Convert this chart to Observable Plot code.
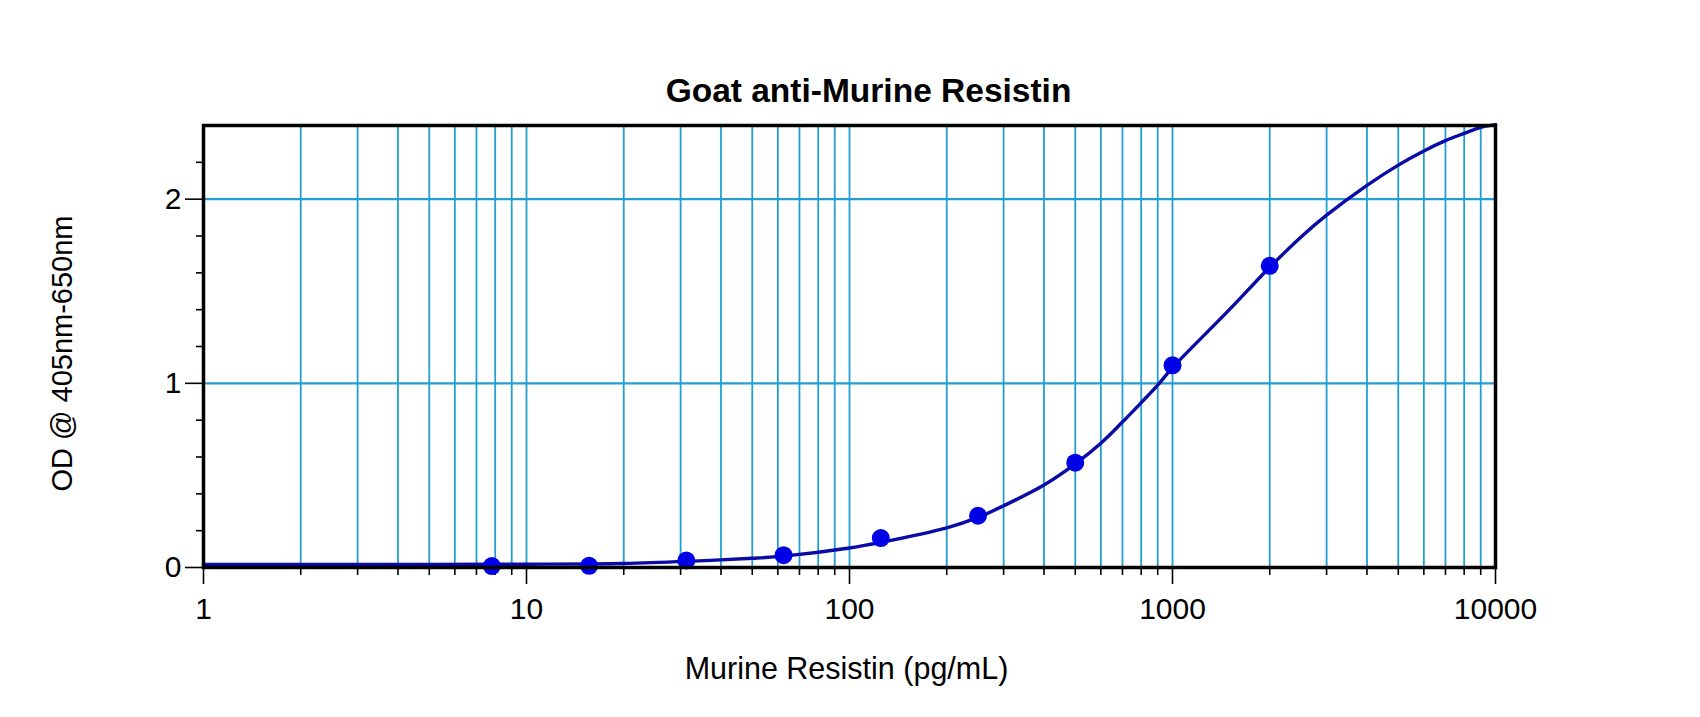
<!DOCTYPE html>
<html>
<head>
<meta charset="utf-8">
<script src="https://cdn.jsdelivr.net/npm/d3@7"></script>
<script src="https://cdn.jsdelivr.net/npm/@observablehq/plot@0.6"></script>
<style>
  html, body { margin: 0; padding: 0; background: #fff; }
</style>
</head>
<body>
<div id="chart"></div>
<script>
// Measured standards (dose in pg/mL, OD)
const doses = [7.8125, 15.625, 31.25, 62.5, 125, 250, 500, 1000, 2000];
const odValues = [0.008, 0.009, 0.038, 0.067, 0.160, 0.281, 0.569, 1.098, 1.638];

// Fitted curve
const curveDoses = [1, 5, 10, 20, 31.25, 50, 62.5, 100, 125, 200, 250, 300, 400, 500, 600, 700, 800, 900, 1000, 1500, 2000, 2500, 3000, 4000, 5000, 6000, 7000, 8000, 9000, 10000];
const curveOD = [0.016, 0.017, 0.018, 0.022, 0.033, 0.050, 0.062, 0.106, 0.136, 0.215, 0.272, 0.335, 0.448, 0.563, 0.675, 0.790, 0.895, 0.990, 1.085, 1.400, 1.630, 1.795, 1.913, 2.075, 2.185, 2.262, 2.318, 2.357, 2.390, 2.405];

// Axis ticks
const xMajorTicks = [1, 10, 100, 1000, 10000];
const xMinorTicks = [2,3,4,5,6,7,8,9, 20,30,40,50,60,70,80,90, 200,300,400,500,600,700,800,900, 2000,3000,4000,5000,6000,7000,8000,9000];
const yMajorTicks = [0, 1, 2];
const yMinorTicks = [0.2, 0.4, 0.6, 0.8, 1.2, 1.4, 1.6, 1.8, 2.2];

const titleText = "Goat anti-Murine Resistin";
const xLabel = "Murine Resistin (pg/mL)";
const yLabel = "OD @ 405nm-650nm";

const points = doses.map((d, i) => ({dose: d, od: odValues[i]}));
const curve = curveDoses.map((d, i) => ({dose: d, od: curveOD[i]}));
const xGrid = xMajorTicks.concat(xMinorTicks);

const font = "'Liberation Sans', Arial, Helvetica, sans-serif";
const gridColor = "#229fd2";

const chart = Plot.plot({
  width: 1700,
  height: 717,
  marginLeft: 203,
  marginRight: 205,
  marginTop: 125,
  marginBottom: 150,
  style: {background: "#fff", fontFamily: font, fontSize: "30px", color: "#000", overflow: "visible"},
  x: {type: "log", domain: [1, 10000]},
  y: {domain: [0, 2.4]},
  marks: [
    Plot.gridX(xGrid, {stroke: gridColor, strokeOpacity: 1, strokeWidth: 1.8}),
    Plot.gridY(yMajorTicks, {stroke: gridColor, strokeOpacity: 1, strokeWidth: 2.2}),
    Plot.axisX(xMajorTicks, {tickSize: 17, tickPadding: 13, tickFormat: d => String(d), label: null, fontSize: 30, strokeWidth: 1.6}),
    Plot.axisX(xMinorTicks, {tickSize: 8, tickFormat: () => "", label: null, strokeWidth: 1.6}),
    Plot.axisY(yMajorTicks, {tickSize: 18, tickPadding: 4, tickFormat: d => String(d), label: null, fontSize: 30, strokeWidth: 1.6}),
    Plot.axisY(yMinorTicks, {tickSize: 7, tickFormat: () => "", label: null, strokeWidth: 1.6}),
    Plot.line(curve, {x: "dose", y: "od", stroke: "#0a0aa6", strokeWidth: 3.4, curve: "catmull-rom"}),
    Plot.dot(points, {x: "dose", y: "od", r: 9, fill: "#0000e6", stroke: "none"}),
    Plot.frame({stroke: "#000", strokeWidth: 3.5}),
    Plot.text([titleText], {frameAnchor: "top", textAnchor: "middle", lineAnchor: "middle", dx: 19, dy: -34, fontSize: 33.5, fontWeight: "bold", fill: "#000"}),
    Plot.text([xLabel], {frameAnchor: "bottom", textAnchor: "middle", lineAnchor: "middle", dx: -3, dy: 102, fontSize: 30.5, fill: "#000"}),
    Plot.text([yLabel], {frameAnchor: "left", textAnchor: "middle", lineAnchor: "middle", dx: -141, dy: 7, rotate: -90, fontSize: 29, fill: "#000"})
  ]
});
document.getElementById("chart").appendChild(chart);
</script>
</body>
</html>
